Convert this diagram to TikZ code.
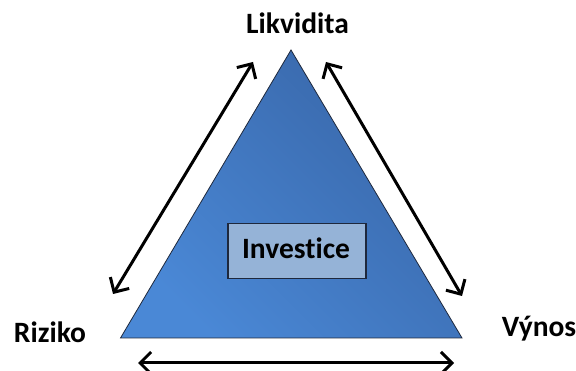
\documentclass[tikz,border=0pt]{standalone}
\usepackage{fontspec}
\setmainfont[Ligatures=NoCommon]{Carlito}
\usetikzlibrary{arrows.meta}
\definecolor{triA}{RGB}{74,136,214}
\definecolor{triB}{RGB}{56,102,168}
\definecolor{boxfill}{RGB}{149,179,215}
\definecolor{edge}{RGB}{30,40,60}
\tikzset{
  lbl/.style={font=\fontsize{29.5}{31}\selectfont\bfseries, inner sep=0pt, anchor=base},
  dblarrow/.style={line width=3pt, {Straight Barb[length=11pt,width=22pt,line width=3pt]}-{Straight Barb[length=11pt,width=22pt,line width=3pt]}},
  boxstyle/.style={draw=edge, line width=1.2pt, fill=boxfill, minimum width=138pt, minimum height=55pt, inner sep=0pt}
}
\begin{document}
\begin{tikzpicture}[x=1pt,y=-1pt]
\useasboundingbox (0,0) rectangle (576,371);
\coordinate (top) at (291,50);
\coordinate (bl) at (120.5,338);
\coordinate (br) at (462,338);
\shade[left color=triB, right color=triA, shading angle=-45] (top) -- (br) -- (bl) -- cycle;
\draw[edge, line width=0.8pt, line join=miter] (top) -- (br) -- (bl) -- cycle;
\node[boxstyle] (box) at (297,251) {};
\node[lbl] (inv) at (296,259) {Investice};
\node[lbl] (lik) at (297.5,34) {Likvidita};
\node[lbl] (riz) at (50,343) {Riziko};
\node[lbl] (vyn) at (539,337) {Výnos};
\coordinate (a1) at (113,294);
\coordinate (a2) at (253,62);
\coordinate (b1) at (326,62);
\coordinate (b2) at (462,296);
\coordinate (c1) at (138,363);
\coordinate (c2) at (454,363);
\draw[dblarrow] (a1) -- (a2);
\draw[dblarrow] (b1) -- (b2);
\draw[dblarrow] (c1) -- (c2);
\end{tikzpicture}
\end{document}
